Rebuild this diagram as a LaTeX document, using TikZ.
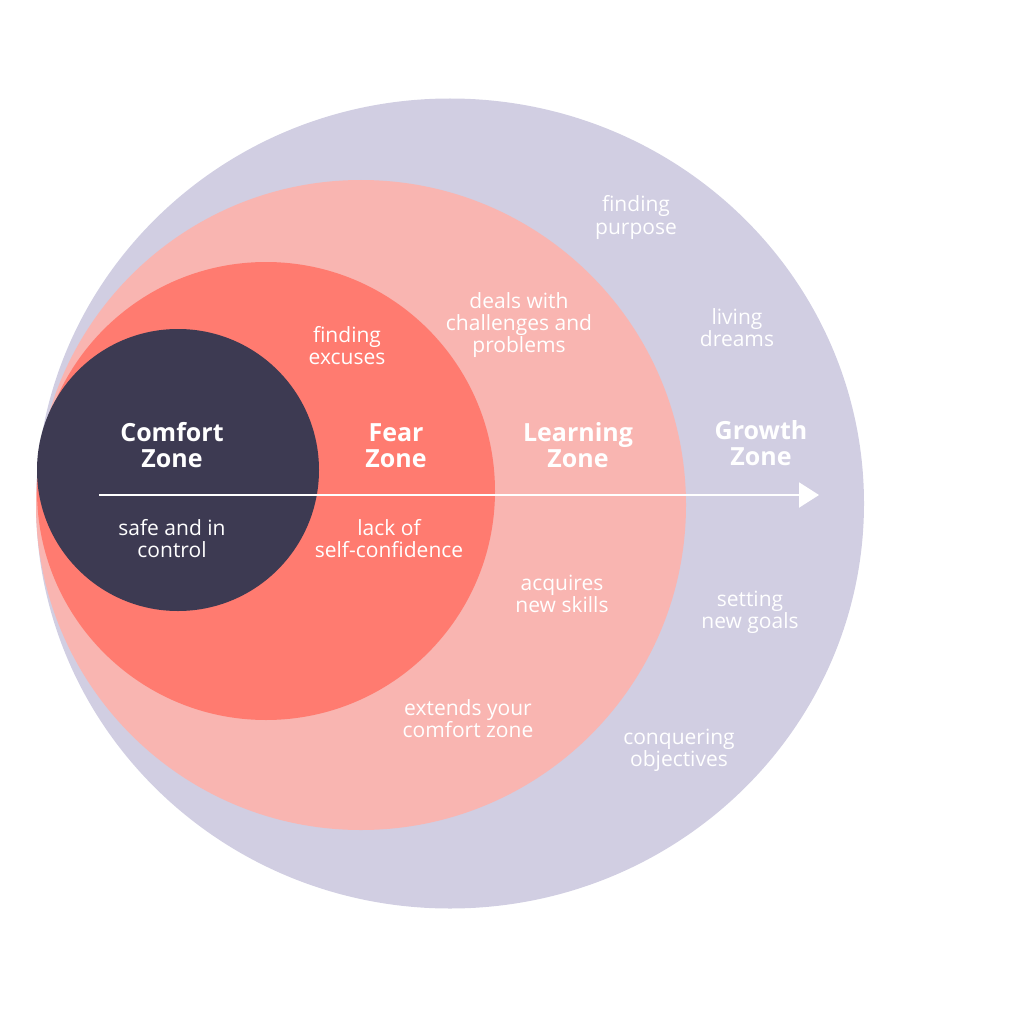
\documentclass[tikz,border=0pt]{standalone}
\usepackage{fontspec}
\setmainfont{Open Sans}
\usetikzlibrary{arrows.meta}
\definecolor{growthbg}{HTML}{D1CEE2}
\definecolor{learnbg}{HTML}{F9B5B1}
\definecolor{fearbg}{HTML}{FF7B70}
\definecolor{comfortbg}{HTML}{3D3A52}
\begin{document}
\begin{tikzpicture}[x=1pt,y=-1pt,
  zonetitle/.style={text=white,font=\bfseries\fontsize{25}{25.5}\selectfont,align=center,inner sep=0pt,anchor=base},
  zonenote/.style={text=white,font=\fontsize{21}{22}\selectfont,align=center,inner sep=0pt,anchor=base}]
\useasboundingbox (0,0) rectangle (1024,1024);

% zones, outside in
\fill[growthbg] (450,503.5) ellipse [x radius=414, y radius=405];
\fill[learnbg] (361,505) circle [radius=325];
\fill[fearbg] (266,491) circle [radius=229];
\fill[comfortbg] (178,470) circle [radius=141];

% axis
\coordinate (axisstart) at (99,495);
\coordinate (axisend) at (819,495);
\draw[white,line width=2pt,-{Triangle[length=20pt,width=25pt]}] (axisstart) -- (axisend);

% zone names (placed by the baseline of the last line)
\node[zonetitle] (comforttitle) at (172,467) {Comfort\\Zone};
\node[zonetitle] (feartitle) at (396,467) {Fear\\Zone};
\node[zonetitle] (learntitle) at (578,467) {Learning\\Zone};
\node[zonetitle] (growthtitle) at (761,465) {Growth\\Zone};

% notes
\node[zonenote] (safe) at (172,557) {safe and in\\control};
\node[zonenote] (excuses) at (347,364) {finding\\excuses};
\node[zonenote] (confidence) at (389,557) {lack of\\self-confidence};
\node[zonenote] (challenges) at (519,352) {deals with\\challenges and\\problems};
\node[zonenote] (skills) at (562,612) {acquires\\new skills};
\node[zonenote] (extends) at (468,737) {extends your\\comfort zone};
\node[zonenote] (purpose) at (636,234) {finding\\purpose};
\node[zonenote] (dreams) at (737,346) {living\\dreams};
\node[zonenote] (goals) at (750,628) {setting\\new goals};
\node[zonenote] (objectives) at (679,766) {conquering\\objectives};
\end{tikzpicture}
\end{document}
